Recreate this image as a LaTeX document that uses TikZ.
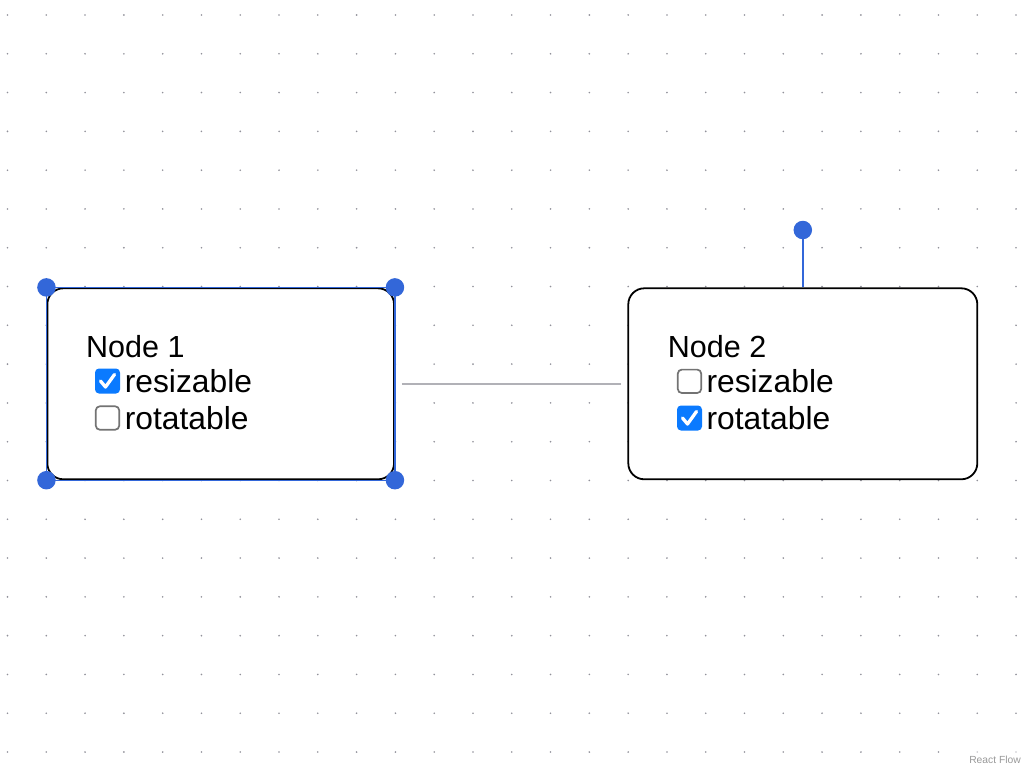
\documentclass[tikz,border=0pt]{standalone}
\usepackage{fontspec}
\setmainfont{Liberation Sans}
\definecolor{dotc}{HTML}{91919A}
\definecolor{rfblue}{HTML}{3367D9}
\definecolor{cbblue}{HTML}{0A7AFF}
\definecolor{cbgray}{HTML}{737373}
\definecolor{edgegray}{HTML}{B1B1B7}
\definecolor{attrgray}{HTML}{999999}
\tikzset{
  flownode/.style={draw=black, line width=1.8pt, fill=white, rounded corners=16pt, inner sep=0pt},
  handledot/.style={circle, fill=rfblue, minimum size=18.5pt, inner sep=0pt},
  selline/.style={draw=rfblue, line width=1.3pt},
  edgeline/.style={draw=edgegray, line width=1.4pt},
  titletext/.style={anchor=base west, inner sep=0pt, font=\fontsize{30.5}{36}\selectfont},
  opttext/.style={anchor=base west, inner sep=0pt, font=\fontsize{31.8}{37}\selectfont},
  cbon/.pic={
    \fill[cbblue, rounded corners=4pt] (0,0) rectangle (25,25);
    \draw[white, line width=3.3pt, line cap=round, line join=round] (5.5,12.5) -- (10.5,18.5) -- (19.5,6);
  },
  cboff/.pic={
    \draw[cbgray, fill=white, line width=1.7pt, rounded corners=4pt] (0.8,0.8) rectangle (24.2,24.2);
  }
}
\begin{document}
\begin{tikzpicture}[x=1pt, y=-1pt]
\useasboundingbox (0,0) rectangle (1024,768);
\fill[white] (0,0) rectangle (1024,768);
% dot grid
\foreach \i in {0,...,26} {
  \foreach \j in {0,...,19} {
    \fill[dotc] ({7.5+38.79*\i},{15+38.79*\j}) circle (0.9);
  }
}
% nodes
\node[flownode, minimum width=346.7pt, minimum height=191pt] (n1) at (220.7,383.8) {};
\node[flownode, minimum width=349pt, minimum height=191pt] (n2) at (802.8,383.8) {};
% edge
\draw[edgeline, shorten <=7pt, shorten >=6pt] (n1.east) -- (n2.west);
% node 1 content
\node[titletext] (t1) at (86,357.3) {Node 1};
\pic at (95,368.5) {cbon};
\node[opttext] (r1) at (124.6,392.3) {resizable};
\pic at (95,405.5) {cboff};
\node[opttext] (o1) at (124.6,429.3) {rotatable};
% node 2 content
\node[titletext] (t2) at (667.7,357) {Node 2};
\pic at (677,368.8) {cboff};
\pic at (677,405.5) {cbon};
\node[opttext] (r2) at (706.3,392.8) {resizable};
\node[opttext] (o2) at (706.3,429.6) {rotatable};
% selection outline and resize handles on node 1
\draw[selline] (n1.north west) rectangle (n1.south east);
\node[handledot] (h1) at (n1.north west) {};
\node[handledot] (h2) at (n1.north east) {};
\node[handledot] (h3) at (n1.south west) {};
\node[handledot] (h4) at (n1.south east) {};
% rotation handle on node 2
\node[handledot] (rot) at (802.8,230) {};
\draw[rfblue, line width=1.6pt] (rot) -- (n2.north);
% attribution
\fill[white, opacity=0.5] (965,749) rectangle (1024,768);
\node[anchor=base east, inner sep=0pt, text=attrgray, font=\fontsize{10.3}{12}\selectfont] (attr) at (1021,763.3) {React Flow};
\end{tikzpicture}
\end{document}
